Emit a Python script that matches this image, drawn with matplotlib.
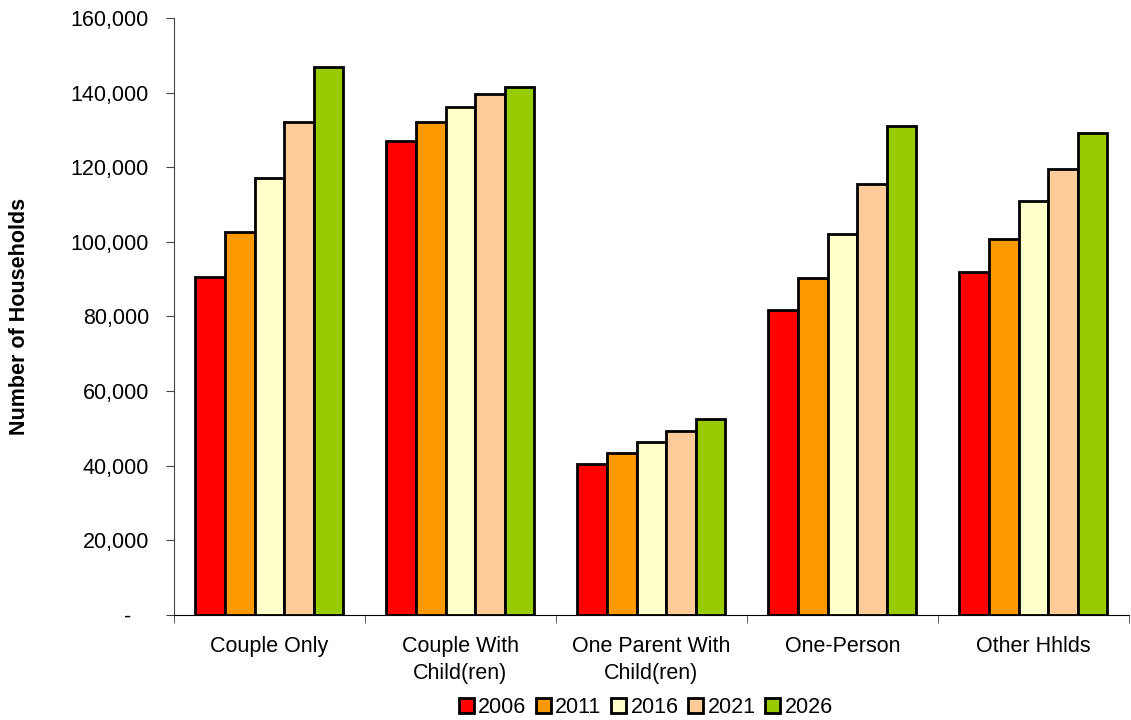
import numpy as np
import matplotlib
matplotlib.use("Agg")
import matplotlib.pyplot as plt
from matplotlib.ticker import FuncFormatter

categories = ["Couple Only", "Couple With\nChild(ren)", "One Parent With\nChild(ren)", "One-Person", "Other Hhlds"]
years = ["2006", "2011", "2016", "2021", "2026"]
v2006 = [90600, 127100, 40500, 81800, 92000]
v2011 = [102700, 132200, 43400, 90400, 100800]
v2016 = [117200, 136200, 46400, 102100, 111000]
v2021 = [132200, 139700, 49300, 115600, 119600]
v2026 = [146900, 141500, 52500, 131100, 129200]
colors = ["#FF0000", "#FF9900", "#FFFFCC", "#FFCC99", "#99CC00"]

plt.rcParams["font.family"] = ["Liberation Sans", "DejaVu Sans"]
fs = 15.5

fig = plt.figure(figsize=(11.31, 7.2), dpi=100)
ax = fig.add_axes([0.1538, 0.146, 0.8444, 0.829])

series = [v2006, v2011, v2016, v2021, v2026]
x = np.arange(len(categories))
w = 0.775 / 5
for i, (vals, c, yr) in enumerate(zip(series, colors, years)):
    ax.bar(x + (i - 2) * w, vals, width=w, color=c, edgecolor="black",
           linewidth=2, label=yr)

ax.set_xlim(-0.5, len(categories) - 0.5)
ax.set_ylim(0, 160000)
ax.set_yticks(np.arange(0, 160001, 20000))
ax.yaxis.set_major_formatter(FuncFormatter(lambda v, p: "-   " if v == 0 else f"{int(v):,}"))
ax.set_xticks(x)
ax.set_xticklabels(categories, linespacing=1.4)
ax.set_xticks(np.arange(-0.5, len(categories)), minor=True)
ax.tick_params(axis="x", which="major", length=0, pad=15, labelsize=fs)
ax.tick_params(axis="x", which="minor", length=6, color="#444444")
ax.tick_params(axis="y", length=6, pad=12, labelsize=fs, color="#444444")

ax.spines["top"].set_visible(False)
ax.spines["right"].set_visible(False)
ax.spines["left"].set_color("#444444")
ax.spines["bottom"].set_color("black")

fig.text(0.017, 0.56, "Number of Households", rotation=90, fontsize=fs,
         fontweight="bold", ha="center", va="center")

fig.legend(loc="center", bbox_to_anchor=(0.571, 0.017), ncol=5, frameon=False,
           fontsize=fs, handlelength=0.7, handleheight=0.7,
           handletextpad=0.2, columnspacing=0.45)

fig.savefig("out.png", dpi=100)
